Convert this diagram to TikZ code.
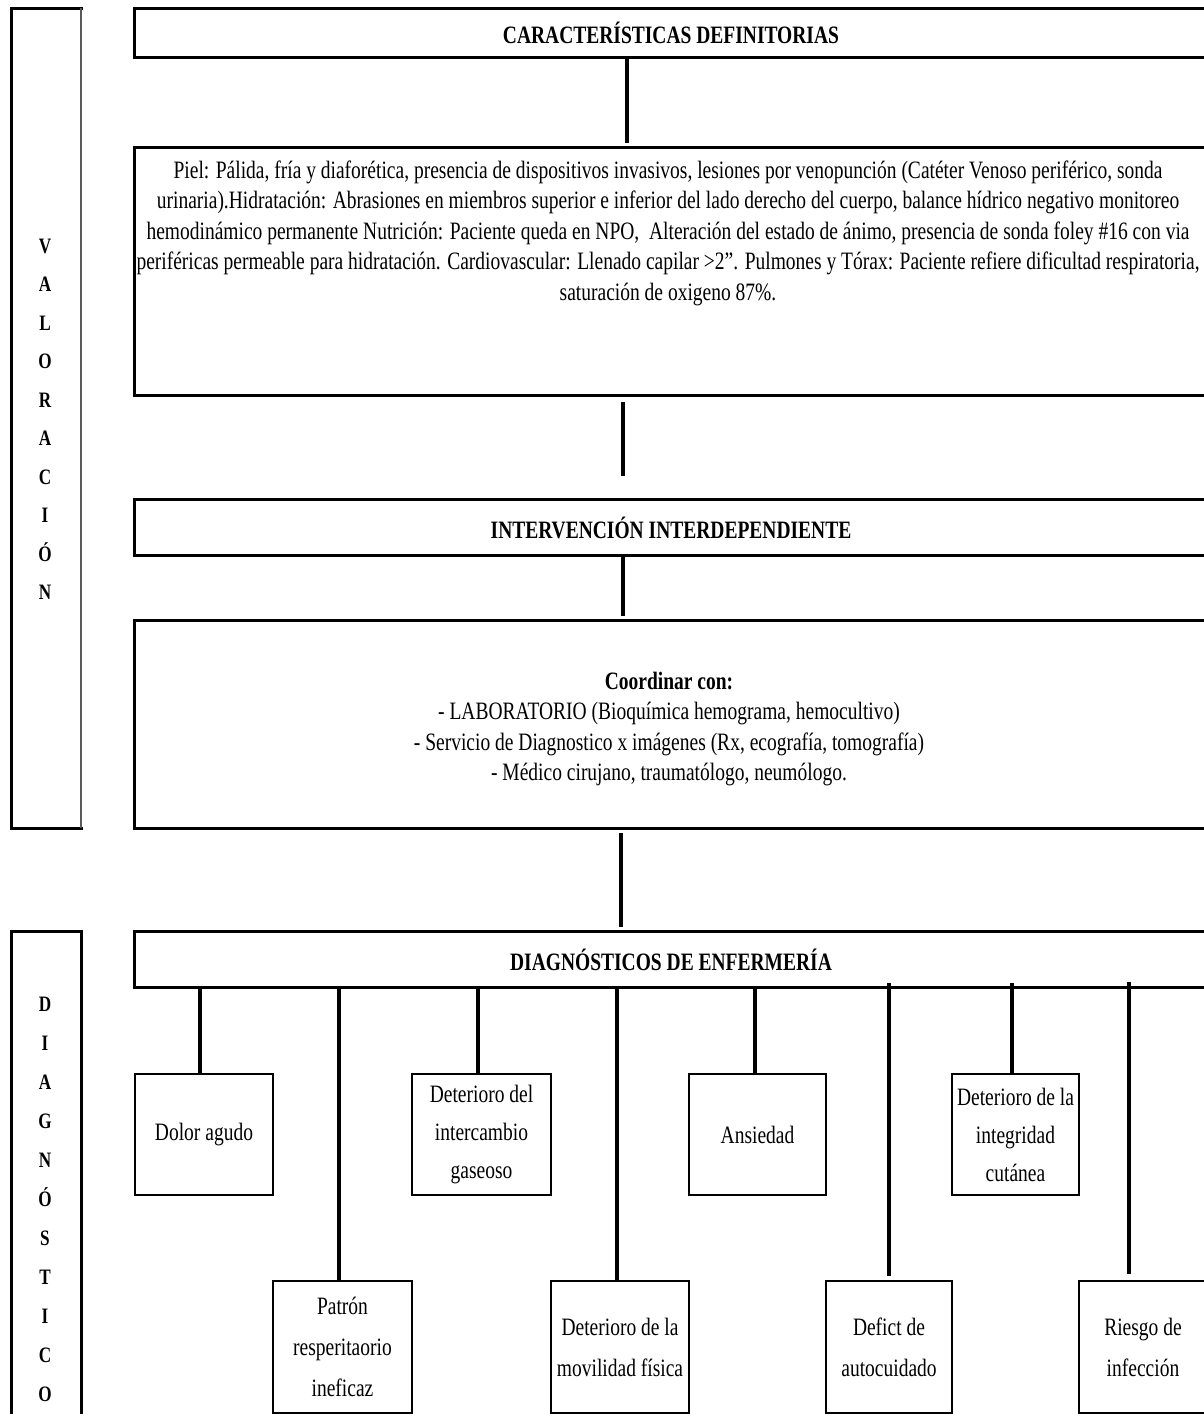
\documentclass[tikz,border=0pt]{standalone}
\usepackage{fontspec}
\setmainfont[FakeStretch=0.78]{Liberation Serif}
\begin{document}
\begin{tikzpicture}[x=1pt,y=-1pt,
  bigbox/.style={draw, line width=3pt, inner sep=0pt, anchor=north west},
  colbox/.style={draw, line width=2.6pt, inner sep=0pt, anchor=north west, minimum width=70pt},
  smallbox/.style={draw, line width=2pt, inner sep=0pt, anchor=north west, align=center,
     minimum height=121pt, font=\fontsize{25}{38}\selectfont},
  lowbox/.style={smallbox, minimum height=132pt, font=\fontsize{25}{41}\selectfont},
  conn/.style={line width=4.5pt},
  hdr/.style={font=\bfseries\fontsize{25}{28}\selectfont},
  body/.style={font=\fontsize{25}{30.5}\selectfont, align=center},
  letter/.style={font=\bfseries\fontsize{22}{24}\selectfont, anchor=base}
]
\useasboundingbox (0,0) rectangle (1203,1414);

% left column boxes
\node[colbox, minimum height=820pt] (val) at (10,7) {};
\draw[white, line width=3pt] ([xshift=-1.3pt,yshift=-2.6pt]val.north east) -- ([xshift=-1.3pt,yshift=2.6pt]val.south east);
\draw[black!65, line width=1.8pt] ([xshift=-1.3pt,yshift=-1.3pt]val.north east) -- ([xshift=-1.3pt,yshift=1.3pt]val.south east);
\node[colbox, minimum height=500pt] (dgn) at (10,930) {};
\foreach \l [count=\i] in {V,A,L,O,R,A,C,I,Ó,N}
  \node[letter] (v\i) at (45,{253+38.5*(\i-1)}) {\l};
\foreach \l [count=\i] in {D,I,A,G,N,Ó,S,T,I,C,O}
  \node[letter] (d\i) at (45,{1011+39*(\i-1)}) {\l};

% main boxes
\node[bigbox, minimum width=1073pt, minimum height=49pt, hdr] (hdr1) at (133,7) {CARACTERÍSTICAS DEFINITORIAS};
\node[bigbox, minimum width=1073pt, minimum height=248pt] (piel) at (133,146) {};
\node[body] (pieltxt) at (668,233) {Piel: Pálida, fría y diaforética, presencia de dispositivos invasivos, lesiones por venopunción (Catéter Venoso periférico, sonda\\
urinaria).Hidratación: Abrasiones en miembros superior e inferior del lado derecho del cuerpo, balance hídrico negativo monitoreo\\
hemodinámico permanente Nutrición: Paciente queda en NPO,\ \ Alteración del estado de ánimo, presencia de sonda foley \#16 con via\\
periféricas permeable para hidratación. Cardiovascular: Llenado capilar >2”. Pulmones y Tórax: Paciente refiere dificultad respiratoria,\\
saturación de oxigeno 87\%.};
\node[bigbox, minimum width=1073pt, minimum height=56pt, hdr] (int) at (133,498) {INTERVENCIÓN INTERDEPENDIENTE};
\node[bigbox, minimum width=1073pt, minimum height=208pt] (coord) at (133,619) {};
\node[body] (coordtxt) at (669,729) {\textbf{Coordinar con:}\\
- LABORATORIO (Bioquímica hemograma, hemocultivo)\\
- Servicio de Diagnostico x imágenes (Rx, ecografía, tomografía)\\
- Médico cirujano, traumatólogo, neumólogo.};
\node[bigbox, minimum width=1073pt, minimum height=56pt, hdr] (diag) at (133,930) {DIAGNÓSTICOS DE ENFERMERÍA};

% diagnosis boxes, top row
\node[smallbox, minimum width=138pt] (dolor) at (134,1073) {Dolor agudo};
\node[smallbox, minimum width=139pt] (gas) at (411,1073) {Deterioro del\\intercambio\\gaseoso};
\node[smallbox, minimum width=137pt] (ans) at (688,1073) {Ansiedad};
\node[smallbox, minimum width=127pt] (integ) at (951,1073) {Deterioro de la\\integridad\\cutánea};
% bottom row
\node[lowbox, minimum width=139pt] (patron) at (272,1280) {Patrón\\resperitaorio\\ineficaz};
\node[lowbox, minimum width=138pt] (movil) at (550,1280) {Deterioro de la\\movilidad física};
\node[lowbox, minimum width=126pt] (defic) at (825,1280) {Defict de\\autocuidado};
\node[lowbox, minimum width=128pt] (riesgo) at (1078,1280) {Riesgo de\\infección};

% connector x positions
\coordinate (x1) at (627,0);
\coordinate (x2) at (623,0);
\coordinate (x3) at (621,0);
\coordinate (xa) at (200,0);
\coordinate (xb) at (339,0);
\coordinate (xc) at (478,0);
\coordinate (xd) at (617,0);
\coordinate (xe) at (755,0);
\coordinate (xf) at (889,0);
\coordinate (xg) at (1012,0);
\coordinate (xh) at (1129,0);

\draw[conn, shorten >=3pt] (hdr1.south -| x1) -- (piel.north -| x1);
\draw[conn, shorten <=5pt, shorten >=22pt] (piel.south -| x2) -- (int.north -| x2);
\draw[conn, shorten >=3pt] (int.south -| x2) -- (coord.north -| x2);
\draw[conn, shorten <=3pt, shorten >=3pt] (coord.south -| x3) -- (diag.north -| x3);

\draw[conn] (diag.south -| xa) -- (dolor.north -| xa);
\draw[conn] (diag.south -| xc) -- (gas.north -| xc);
\draw[conn] (diag.south -| xe) -- (ans.north -| xe);
\draw[conn, shorten <=-6pt] (diag.south -| xg) -- (integ.north -| xg);
\draw[conn] (diag.south -| xb) -- (patron.north -| xb);
\draw[conn] (diag.south -| xd) -- (movil.north -| xd);
\draw[conn, shorten <=-6pt, shorten >=4pt] (diag.south -| xf) -- (defic.north -| xf);
\draw[conn, shorten <=-7pt, shorten >=6pt] (diag.south -| xh) -- (riesgo.north -| xh);
\end{tikzpicture}
\end{document}
